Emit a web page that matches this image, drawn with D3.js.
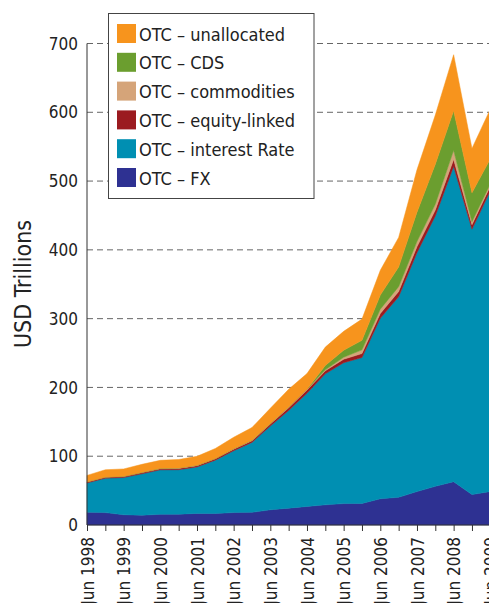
<!DOCTYPE html>
<head>
	<meta charset="utf-8">
	<script src="https://d3js.org/d3.v7.min.js"></script>
	<style type="text/css">
		body { margin: 0; background: #fff; }
		text { font-family: "Liberation Sans Narrow", "DejaVu Sans Condensed", "Roboto", sans-serif; fill: #222; }
		.grid line { stroke: #666; stroke-dasharray: 6,4; }
	</style>
</head>
<body>
	<script type="text/javascript">
		// semi-annual periods, USD trillions
		const periods = ['Jun 1998','Dec 1998','Jun 1999','Dec 1999','Jun 2000','Dec 2000','Jun 2001','Dec 2001',
			'Jun 2002','Dec 2002','Jun 2003','Dec 2003','Jun 2004','Dec 2004','Jun 2005','Dec 2005',
			'Jun 2006','Dec 2006','Jun 2007','Dec 2007','Jun 2008','Dec 2008','Jun 2009']
		const fx          = [18.7,18.0,14.9,14.3,15.5,15.7,16.9,16.7,18.1,18.4,22.1,24.5,27.0,29.3,31.1,31.4,38.1,40.3,48.6,56.2,63.0,44.2,48.7]
		const interest    = [42.4,50.0,54.1,60.1,64.7,64.7,67.5,77.6,89.9,101.7,121.8,142.0,164.6,190.5,204.8,212.0,262.5,291.6,347.3,393.1,458.3,385.9,437.2]
		const equity      = [1.5,1.5,1.5,1.8,1.6,1.9,1.9,1.9,2.2,2.3,2.8,3.8,4.5,4.4,5.1,5.8,6.8,7.5,8.6,8.5,10.2,6.5,6.6]
		const commodities = [0.4,0.4,0.4,0.5,0.6,0.7,0.6,0.6,0.8,0.9,1.0,1.4,1.3,1.4,2.9,5.4,6.4,7.1,7.6,8.5,13.2,4.4,3.7]
		const cds         = [0,0,0,0,0,0,0,0,0,0,0,0,0,6.4,10.2,13.9,20.4,28.7,42.6,58.2,57.4,41.9,36.0]
		const unallocated = [9.1,10.4,10.6,11.5,11.6,12.2,12.9,14.4,16.5,18.4,22.0,25.5,22.7,26.6,27.4,30.8,36.0,42.9,61.7,71.5,81.6,64.5,72.4]
		const yTicks = [0,100,200,300,400,500,600,700]

		const series = [
			{key:'fx', label:'OTC – FX', color:'#2e3192', values:fx},
			{key:'interest', label:'OTC – interest Rate', color:'#008fb2', values:interest},
			{key:'equity', label:'OTC – equity-linked', color:'#9b1b20', values:equity},
			{key:'commodities', label:'OTC – commodities', color:'#d5a479', values:commodities},
			{key:'cds', label:'OTC – CDS', color:'#6b9e2f', values:cds},
			{key:'unallocated', label:'OTC – unallocated', color:'#f7941d', values:unallocated}
		]

		const W = 489, H = 603
		const plotLeft = 87, plotTop = 43.5, plotBottom = 525, plotRight = 490.3

		const svg = d3.select('body').append('svg')
			.attr('width', W)
			.attr('height', H)

		const rows = periods.map((p, i) => {
			const r = {period: p}
			series.forEach(s => r[s.key] = s.values[i])
			return r
		})

		const x = d3.scalePoint().domain(periods).range([plotLeft, plotRight])
		const y = d3.scaleLinear().domain([0, 700]).range([plotBottom, plotTop])

		// grid
		svg.append('g').attr('class', 'grid')
			.selectAll('line')
			.data(yTicks.filter(d => d > 0))
			.enter().append('line')
				.attr('x1', plotLeft).attr('x2', W)
				.attr('y1', d => y(d)).attr('y2', d => y(d))

		const stack = d3.stack().keys(series.map(s => s.key))
		const area = d3.area()
			.x(d => x(d.data.period))
			.y0(d => y(d[0]))
			.y1(d => y(d[1]))

		svg.append('g').selectAll('path')
			.data(stack(rows))
			.enter().append('path')
				.attr('d', area)
				.style('fill', (d, i) => series[i].color)
				.style('stroke', (d, i) => series[i].color)
				.style('stroke-width', 0.5)

		// y axis
		svg.append('line')
			.attr('x1', plotLeft).attr('x2', plotLeft)
			.attr('y1', plotTop).attr('y2', plotBottom)
			.style('stroke', '#333')
		svg.append('g').selectAll('text')
			.data(yTicks)
			.enter().append('text')
				.attr('x', plotLeft - 9)
				.attr('y', d => y(d))
				.attr('dy', '0.36em')
				.attr('text-anchor', 'end')
				.style('font-size', '17px')
				.text(d => d)

		svg.append('text')
			.attr('transform', 'translate(31,284) rotate(-90)')
			.attr('text-anchor', 'middle')
			.style('font-size', '23px')
			.text('USD Trillions')

		// x axis
		const xAxis = d3.axisBottom(x)
			.tickSize(6)
			.tickSizeOuter(0)
			.tickFormat(d => d.startsWith('Jun') ? d : '')
		const gx = svg.append('g')
			.attr('transform', 'translate(0,' + plotBottom + ')')
			.call(xAxis)
		gx.select('.domain').attr('d', 'M' + plotLeft + ',0H' + W).style('stroke', '#333')
		gx.selectAll('.tick line').style('stroke', '#333')
		gx.selectAll('.tick text')
			.attr('transform', 'rotate(-90)')
			.attr('x', -12).attr('y', 0).attr('dy', '0.36em')
			.attr('text-anchor', 'end')
			.style('font-size', '17px')
		gx.attr('font-family', null).attr('font-size', null)

		// legend
		const lg = svg.append('g')
		lg.append('rect')
			.attr('x', 108.5).attr('y', 13.5)
			.attr('width', 205.5).attr('height', 185)
			.style('fill', '#fff').style('stroke', '#444')
		const items = lg.selectAll('.item')
			.data(series.slice().reverse())
			.enter().append('g')
				.attr('transform', (d, i) => 'translate(117,' + (24 + i * 28.8) + ')')
		items.append('rect')
			.attr('width', 19).attr('height', 19)
			.style('fill', d => d.color)
		items.append('text')
			.attr('x', 22).attr('y', 16.5)
			.style('font-size', '18px')
			.text(d => d.label)
	</script>
</body>
